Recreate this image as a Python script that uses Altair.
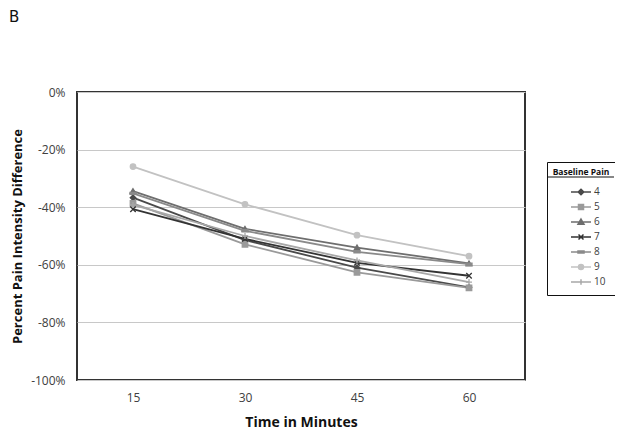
import altair as alt
import pandas as pd

minutes = ["15", "30", "45", "60"]
series = ["4", "5", "6", "7", "8", "9", "10"]
values = {
    "4": [-36.7, -51.4, -61.0, -67.8],
    "5": [-38.7, -52.9, -62.6, -68.0],
    "6": [-34.4, -47.5, -54.0, -59.5],
    "7": [-40.7, -51.0, -59.3, -63.8],
    "8": [-35.2, -48.2, -55.5, -59.8],
    "9": [-25.9, -39.0, -49.7, -57.0],
    "10": [-39.2, -50.0, -58.5, -66.0],
}
grays = ["#4a4a4a", "#9a9a9a", "#6e6e6e", "#333333", "#8a8a8a", "#c2c2c2", "#a8a8a8"]
marker_shapes = [
    "diamond",
    "square",
    "triangle-up",
    "M-1,-1L1,1M-1,1L1,-1",
    "M-1.1,-0.4L1.1,-0.4L1.1,0.4L-1.1,0.4Z",
    "circle",
    "M-1.1,0L1.1,0M0,-1.1L0,1.1",
]
legend_shapes = [
    "M-1,0L1,0M0,-0.28L0.28,0L0,0.28L-0.28,0Z",
    "M-1,0L1,0M-0.25,-0.25L0.25,-0.25L0.25,0.25L-0.25,0.25Z",
    "M-1,0L1,0M0,-0.3L0.3,0.22L-0.3,0.22Z",
    "M-1,0L1,0M-0.25,-0.25L0.25,0.25M-0.25,0.25L0.25,-0.25",
    "M-1,0L1,0M-0.3,-0.1L0.3,-0.1L0.3,0.1L-0.3,0.1Z",
    "M-1,0L1,0M0.25,0A0.25,0.25 0 1,1 -0.25,0A0.25,0.25 0 1,1 0.25,0Z",
    "M-1,0L1,0M0,-0.28L0,0.28",
]
panel_label = ["B"]

rows = []
for s in series:
    for m, v in zip(minutes, values[s]):
        rows.append({"minute": m, "series": s, "value": v / 100.0})
df = pd.DataFrame(rows)

FONT = "Open Sans"

x = alt.X(
    "minute:O",
    sort=minutes,
    scale=alt.Scale(type="point", domain=minutes, padding=0.5),
    axis=alt.Axis(
        title="Time in Minutes",
        labelAngle=0,
        ticks=False,
        domain=False,
        labelPadding=12,
        labelFontSize=12,
        labelColor="#404040",
        labelFont=FONT,
        titleFont=FONT,
        titleFontSize=14,
        titleFontWeight="bold",
        titleColor="#111111",
        titlePadding=12,
    ),
)
y = alt.Y(
    "value:Q",
    scale=alt.Scale(domain=[-1, 0], nice=False),
    axis=alt.Axis(
        title="Percent Pain Intensity Difference",
        format=".0%",
        labelExpr="replace(datum.label, '\u2212', '-')",
        values=[-1, -0.8, -0.6, -0.4, -0.2, 0],
        ticks=False,
        domain=False,
        labelPadding=12,
        labelFontSize=12,
        labelColor="#404040",
        labelFont=FONT,
        titleFont=FONT,
        titleFontSize=13,
        titleFontWeight="bold",
        titleColor="#111111",
        titleX=-60,
        titleY=144,
        titleAngle=-90,
        titleAlign="center",
        titleBaseline="middle",
        gridColor="#c8c8c8",
        gridWidth=1,
    ),
)

color_scale = alt.Scale(domain=series, range=grays)

lines = alt.Chart(df).mark_line(strokeWidth=1.8).encode(
    x=x, y=y,
    color=alt.Color("series:N", scale=color_scale, sort=series, legend=None),
    detail="series:N",
)

points = alt.Chart(df).mark_point(filled=True, size=30, strokeWidth=1.3, opacity=1).encode(
    x=x, y=y,
    color=alt.Color("series:N", scale=color_scale, sort=series, legend=None),
    stroke=alt.Stroke("series:N", scale=color_scale, sort=series, legend=None),
    shape=alt.Shape("series:N", scale=alt.Scale(domain=series, range=marker_shapes), legend=None),
)

leg = alt.Legend(
    title="Baseline Pain",
    orient="none",
    legendX=470,
    legendY=70,
    padding=6,
    strokeColor="#111111",
    titleFont=FONT,
    titleFontSize=8.5,
    titleFontWeight="bold",
    titleColor="#111111",
    titleAnchor="middle",
    titlePadding=9,
    labelFont=FONT,
    labelFontSize=10,
    labelColor="#404040",
    symbolSize=400,
    symbolStrokeWidth=1.5,
    symbolOffset=14,
    labelOffset=2,
    clipHeight=13,
    rowPadding=2,
)

legend_layer = alt.Chart(df).transform_filter("false").mark_point(filled=True, size=400, opacity=1).encode(
    x=x, y=y,
    color=alt.Color("series:N", scale=color_scale, sort=series, legend=leg),
    stroke=alt.Stroke("series:N", scale=color_scale, sort=series, legend=leg),
    shape=alt.Shape("series:N", scale=alt.Scale(domain=series, range=legend_shapes), sort=series, legend=leg),
)

sep = alt.Chart(pd.DataFrame({"a": [0]})).mark_rule(color="#111111", strokeWidth=1.2).encode(
    x=alt.value(470), x2=alt.value(537), y=alt.value(85)
)

label_b = alt.Chart(pd.DataFrame({"t": panel_label})).mark_text(
    align="left", baseline="alphabetic", fontSize=15, font="DejaVu Sans", color="#111111"
).encode(
    x=alt.value(-68), y=alt.value(-70), text="t:N"
)

chart = alt.layer(lines, points, legend_layer, sep, label_b).resolve_scale(
    color="independent", stroke="independent", shape="independent"
).properties(
    width=448,
    height=288,
    autosize=alt.AutoSizeParams(type="none"),
    padding={"left": 69, "top": 84, "right": 90, "bottom": 50},
).configure(
    background="white"
).configure_view(
    stroke="#333333", strokeWidth=2
)

chart.save("out.html", embed_options={"renderer": "svg", "actions": False})
